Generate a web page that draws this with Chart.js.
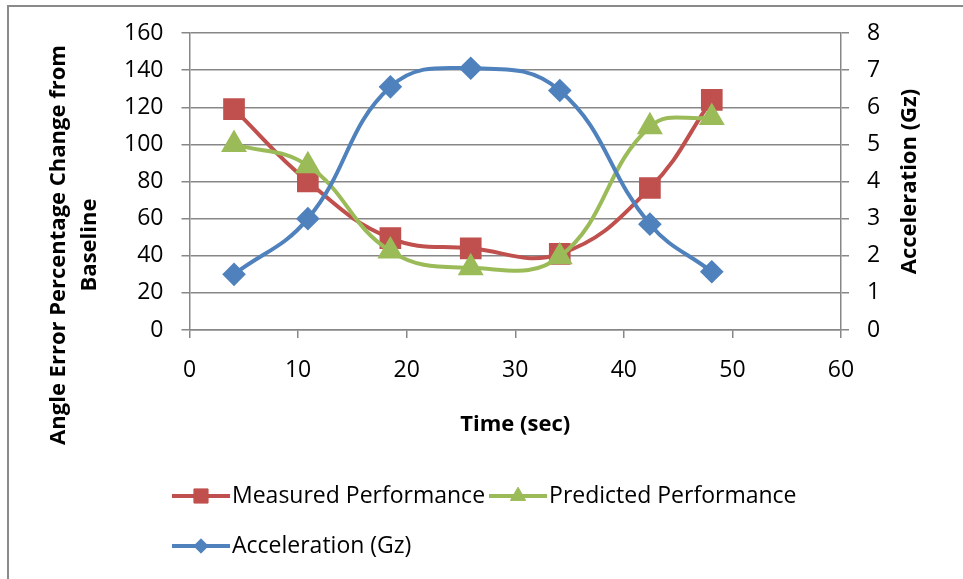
<!DOCTYPE html>
<html>
<head>
<meta charset="utf-8">
<title>Angle error vs acceleration</title>
<script src="https://cdn.jsdelivr.net/npm/chart.js@4.4.1/dist/chart.umd.min.js"></script>
<style>
  html, body { margin: 0; padding: 0; background: #fff; }
  #wrap { position: relative; width: 963px; height: 579px; }
</style>
</head>
<body>
<div id="wrap"><canvas id="gchart" width="963" height="579"></canvas></div>
<script>
// run data
var timeSec   = [4.1, 10.9, 18.5, 25.9, 34.1, 42.4, 48.1];
var measured  = [119, 80, 49.5, 44, 41, 76.5, 124];
var predicted = [100, 88.5, 42.5, 33.5, 39.5, 109.5, 114.5];
var accelGz   = [1.5, 3.0, 6.55, 7.05, 6.45, 2.85, 1.57];

var seriesNames = ['Measured Performance', 'Predicted Performance', 'Acceleration (Gz)'];
var seriesColors = ['#C0504D', '#9BBB59', '#4F81BD'];

var FONT = "'Open Sans', sans-serif";
var GRID = '#878787';
var SMOOTH = 0.42;

function pts(vals) {
  return timeSec.map(function (t, i) { return { x: t, y: vals[i] }; });
}

Chart.defaults.font.family = FONT;
Chart.defaults.font.size = 23;
Chart.defaults.color = '#000';

// outer frame of the chart object
var frame = {
  id: 'frame',
  beforeDraw: function (chart) {
    var ctx = chart.ctx;
    ctx.save();
    ctx.strokeStyle = '#8a8a8a';
    ctx.lineWidth = 2;
    ctx.beginPath();
    ctx.moveTo(8, chart.height);
    ctx.lineTo(8, 6);
    ctx.lineTo(chart.width, 6);
    ctx.stroke();
    ctx.restore();
  }
};

// vertical axis titles, both read bottom to top
var yTitles = {
  id: 'yTitles',
  afterDraw: function (chart) {
    var ctx = chart.ctx;
    var a = chart.chartArea;
    function vtext(str, x, y) {
      ctx.save();
      ctx.translate(x, y);
      ctx.rotate(-Math.PI / 2);
      ctx.fillText(str, 0, 0);
      ctx.restore();
    }
    ctx.save();
    ctx.font = 'bold 22px ' + FONT;
    ctx.fillStyle = '#000';
    ctx.textAlign = 'center';
    ctx.textBaseline = 'middle';
    vtext('Angle Error Percentage Change from', 59, 245);
    vtext('Baseline', 90, 245);
    vtext('Acceleration (Gz)', chart.scales.y2.right - 53, (a.top + a.bottom) / 2);
    ctx.restore();
  }
};

// legend with line + marker samples, two rows
var lineLegend = {
  id: 'lineLegend',
  afterDraw: function (chart) {
    var ctx = chart.ctx;
    var rows = [[0, 1], [2]];
    var rowY = [496, 546];
    ctx.save();
    ctx.font = '23px ' + FONT;
    ctx.textBaseline = 'middle';
    rows.forEach(function (row, r) {
      var x = 172;
      var y = rowY[r];
      row.forEach(function (di) {
        var ds = chart.data.datasets[di];
        ctx.strokeStyle = ds.borderColor;
        ctx.lineWidth = ds.borderWidth;
        ctx.beginPath();
        ctx.moveTo(x, y);
        ctx.lineTo(x + 58, y);
        ctx.stroke();
        ctx.fillStyle = ds.backgroundColor;
        ctx.lineWidth = 1;
        Chart.helpers.drawPoint(ctx, { pointStyle: ds.pointStyle, radius: ds.pointRadius * 0.8, rotation: 0, borderWidth: 1 }, x + 29, y);
        ctx.fillStyle = '#000';
        ctx.fillText(ds.label, x + 60, y);
        x += 60 + ctx.measureText(ds.label).width + 4;
      });
    });
    ctx.restore();
  }
};

new Chart(document.getElementById('gchart'), {
  type: 'line',
  data: {
    datasets: [
      {
        label: seriesNames[0], data: pts(measured), yAxisID: 'y', order: 2,
        borderColor: seriesColors[0], backgroundColor: seriesColors[0],
        borderWidth: 4, pointStyle: 'rect', pointRadius: 12.5, tension: SMOOTH
      },
      {
        label: seriesNames[1], data: pts(predicted), yAxisID: 'y', order: 1,
        borderColor: seriesColors[1], backgroundColor: seriesColors[1],
        borderWidth: 4, pointStyle: 'triangle', pointRadius: 11, tension: SMOOTH
      },
      {
        label: seriesNames[2], data: pts(accelGz), yAxisID: 'y2', order: 0,
        borderColor: seriesColors[2], backgroundColor: seriesColors[2],
        borderWidth: 4, pointStyle: 'rectRot', pointRadius: 9, tension: SMOOTH
      }
    ]
  },
  options: {
    responsive: false,
    animation: false,
    layout: { padding: { top: 33, left: 0, right: 0, bottom: 0 } },
    plugins: {
      legend: { display: false },
      tooltip: { enabled: false }
    },
    scales: {
      x: {
        type: 'linear', min: 0, max: 60,
        ticks: { stepSize: 10, padding: 19 },
        grid: { drawOnChartArea: false, drawTicks: true, tickLength: 8, color: GRID, lineWidth: 1.5 },
        border: { color: GRID, width: 1.5 },
        title: { display: true, text: 'Time (sec)', font: { weight: 'bold', size: 22 }, padding: { top: 0, bottom: 141 } },
        afterFit: function (s) { s.height = 249; }
      },
      y: {
        position: 'left', min: 0, max: 160,
        ticks: { stepSize: 20, padding: 18 },
        grid: { tickLength: 8, color: GRID, lineWidth: 1.5 },
        border: { color: GRID, width: 1.5 },
        afterFit: function (s) { s.width = 189.5; }
      },
      y2: {
        position: 'right', min: 0, max: 8,
        ticks: { stepSize: 1, padding: 18 },
        grid: { drawOnChartArea: false, tickLength: 8, color: GRID, lineWidth: 1.5 },
        border: { color: GRID, width: 1.5 },
        afterFit: function (s) { s.width = 122; }
      }
    }
  },
  plugins: [frame, yTitles, lineLegend]
});
</script>
</body>
</html>
